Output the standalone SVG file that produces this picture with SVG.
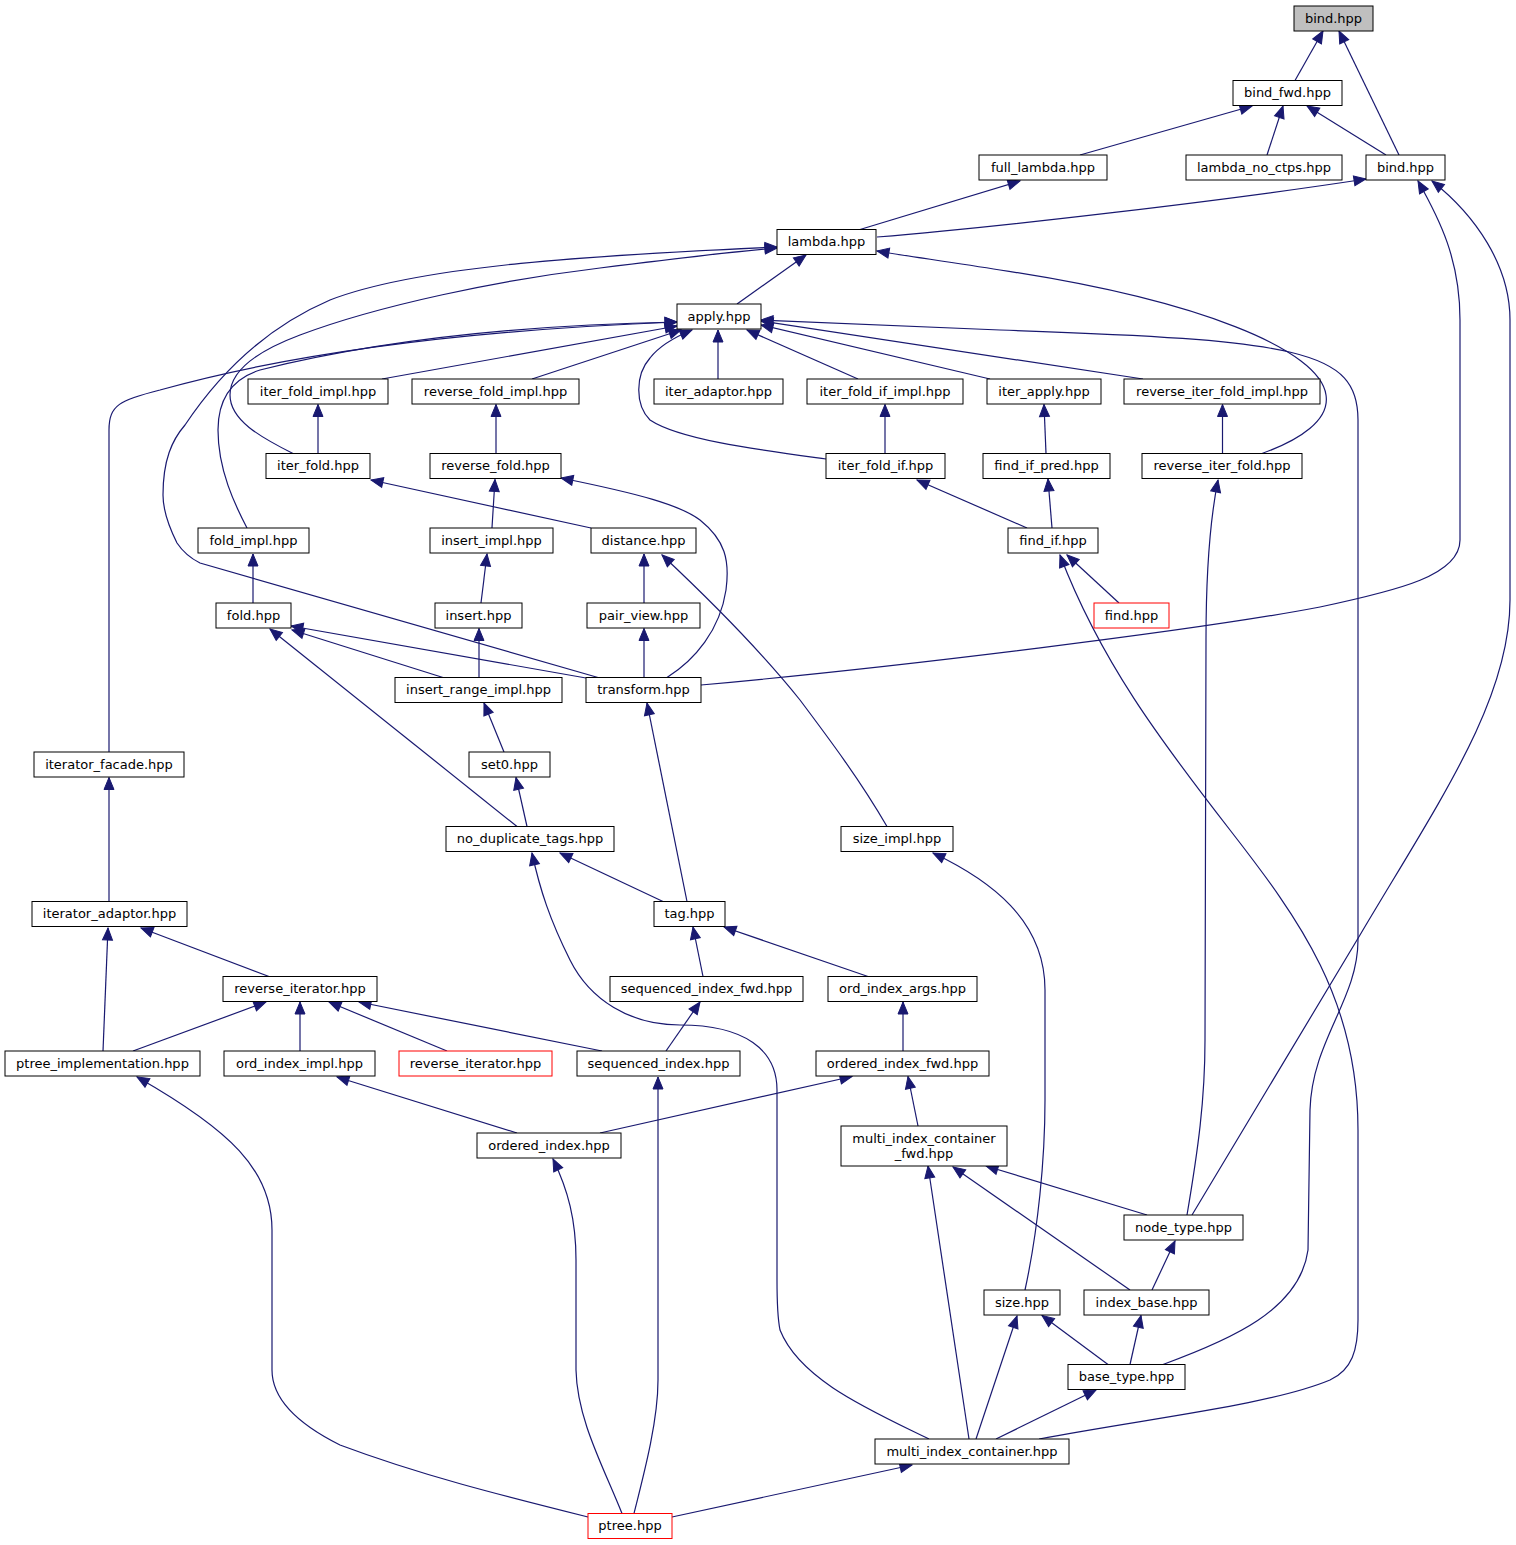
<svg xmlns="http://www.w3.org/2000/svg" width="1516" height="1545" viewBox="0 0 1516 1545">
<style>
.n rect{fill:#ffffff;stroke:#000000;stroke-width:1}
.n.root rect{fill:#bfbfbf}
.n.red rect{stroke:#ff0000}
.n text{font-family:"DejaVu Sans","Liberation Sans",sans-serif;font-size:13px;fill:#000000;text-anchor:middle}
#edges path{fill:none;stroke:#191970;stroke-width:1.2;marker-end:url(#arr)}
</style>
<defs>
<marker id="arr" markerUnits="userSpaceOnUse" markerWidth="12" markerHeight="10" refX="12" refY="5" orient="auto" viewBox="0 0 12 10" overflow="visible">
<path d="M0,0 L12,5 L0,10 Z" fill="#191970" stroke="#191970" stroke-width="1"/>
</marker>
</defs>
<rect x="0" y="0" width="1516" height="1545" fill="#ffffff"/>
<g id="edges">
<path d="M1295,80.5 L1323,31"/>
<path d="M1399,155 L1339,31"/>
<path d="M1080,155 L1252,106"/>
<path d="M1267,155 L1283,106"/>
<path d="M1386,155 L1307,106"/>
<path d="M860,229.5 L1020,181"/>
<path d="M877,237 C1000,227 1230,200 1366,179"/>
<path d="M737,304 L806,255"/>
<path d="M293,453.5 C260,437 230,420 230,395 C230,370 260,350 300,335 C380,305 500,280 600,268 C680,258 740,251 777,248"/>
<path d="M598,677.5 L200,563 C190,558 183,552 177,543 C168,525 163,510 163,495 C163,460 172,440 185,425 C215,380 260,330 330,300 C420,265 600,255 777,247"/>
<path d="M1262,453.5 C1300,440 1330,420 1326,395 C1320,350 1200,300 1000,270 C950,262 900,255 877,251"/>
<path d="M382,379 L677,326"/>
<path d="M532,379 L681,330"/>
<path d="M718,379 L718,330"/>
<path d="M858,379 L747,330"/>
<path d="M990,379 L761,325"/>
<path d="M1143,379 L761,321"/>
<path d="M1163,1364.5 C1230,1340 1300,1310 1308,1250 L1310,1110 C1312,1040 1358,1000 1358,940 L1358,420 C1358,350 1300,340 1000,330 C900,326 800,322 761,320"/>
<path d="M826,459 C760,450 680,440 650,420 C635,405 635,375 650,358 C660,345 675,337 692,330"/>
<path d="M247,528 C235,505 218,470 218,430 C218,395 235,378 260,370 C380,340 520,325 677,322"/>
<path d="M109,752 L109,430 C109,405 120,400 160,390 C260,362 420,332 677,322"/>
<path d="M318,453.5 L318,404.5"/>
<path d="M496,453.5 L496,404.5"/>
<path d="M885,453.5 L885,404.5"/>
<path d="M1046,453.5 L1044,404.5"/>
<path d="M1222.5,453.5 L1222.5,404.5"/>
<path d="M1027,528 L917,480"/>
<path d="M1052,528 L1048,479"/>
<path d="M1119,603 L1067,555"/>
<path d="M1039,1439 C1150,1418 1270,1405 1330,1380 C1352,1370 1358,1350 1358,1320 L1358,1130 C1358,1000 1300,920 1230,830 C1160,740 1100,660 1060,555"/>
<path d="M591,528 L371,480"/>
<path d="M492,528 L495,479.5"/>
<path d="M667,677.5 C695,660 720,630 726,590 C730,560 725,540 700,520 C680,505 640,494 561,478"/>
<path d="M887,826.5 C860,780 830,740 800,700 C760,650 710,600 662,555"/>
<path d="M644,603 L644,554"/>
<path d="M644,677.5 L644,628.5"/>
<path d="M481,603 L487,554"/>
<path d="M479,677.5 L479,628.5"/>
<path d="M253,603 L253,554"/>
<path d="M443,677.5 L292,630"/>
<path d="M586,678 L291,626"/>
<path d="M517,826.5 L270,629"/>
<path d="M504,752 L484,703"/>
<path d="M527,826.5 L516,777.5"/>
<path d="M687,901.5 L647,703"/>
<path d="M663,901.5 L560,853"/>
<path d="M929,1439 C870,1410 800,1380 780,1330 C777,1315 777,1300 777,1280 L777,1090 C777,1050 745,1025 680,1025 C630,1025 590,1000 570,960 C550,920 540,890 532,853"/>
<path d="M969,1439 L928,1166"/>
<path d="M976,1439 L1017,1316"/>
<path d="M996,1439 L1096,1390"/>
<path d="M672,1517 L912,1465"/>
<path d="M634,1513.5 C645,1470 658,1420 658,1380 L658,1077"/>
<path d="M622,1513.5 C605,1470 577,1420 576,1370 L576,1260 C576,1220 568,1190 553,1159"/>
<path d="M588,1517 C500,1495 420,1475 340,1445 C290,1420 272,1395 272,1370 L272,1230 C272,1170 230,1130 137,1077"/>
<path d="M103,1051 L108,928"/>
<path d="M109,901.5 L109,777.5"/>
<path d="M269,976.5 L141,928"/>
<path d="M133,1051 L266,1002"/>
<path d="M300,1051 L300,1002"/>
<path d="M447,1051 L329,1002"/>
<path d="M602,1051 L359,1002"/>
<path d="M517,1133 L337,1077"/>
<path d="M600,1133 L852,1076.5"/>
<path d="M666,1051 L700,1002"/>
<path d="M703,976.5 L693,927"/>
<path d="M868,976.5 L724,927"/>
<path d="M903,1051 L903,1002"/>
<path d="M918,1126 L908,1076.5"/>
<path d="M1147,1215 L986,1166"/>
<path d="M1130,1290 L953,1167"/>
<path d="M1152,1290 L1175,1241"/>
<path d="M1108,1364.5 L1042,1315.5"/>
<path d="M1130,1364.5 L1141,1315.5"/>
<path d="M1187,1215 C1198,1150 1205,1100 1205,1040 L1206,640 C1206,580 1210,520 1218,480"/>
<path d="M1192,1215 L1360,935 C1440,800 1510,700 1510,600 L1510,320 C1510,265 1475,215 1432,181"/>
<path d="M701,685 C900,667 1200,630 1320,607 C1400,590 1460,575 1460,540 L1460,320 C1460,260 1440,220 1418,181"/>
<path d="M1025,1290 C1038,1230 1045,1160 1045,1100 L1045,990 C1045,920 990,880 933,853"/>
</g>
<g id="n_bind_root" class="n root"><rect x="1294" y="6" width="79" height="25"/><text x="1333.5" y="22.5">bind.hpp</text></g>
<g id="n_bind_fwd" class="n"><rect x="1233" y="80.5" width="109" height="25"/><text x="1287.5" y="97">bind_fwd.hpp</text></g>
<g id="n_full_lambda" class="n"><rect x="979" y="155" width="128" height="25"/><text x="1043" y="171.5">full_lambda.hpp</text></g>
<g id="n_lambda_no_ctps" class="n"><rect x="1186" y="155" width="156" height="25"/><text x="1264" y="171.5">lambda_no_ctps.hpp</text></g>
<g id="n_bind2" class="n"><rect x="1366" y="155" width="79" height="25"/><text x="1405.5" y="171.5">bind.hpp</text></g>
<g id="n_lambda" class="n"><rect x="777" y="229.5" width="99" height="25"/><text x="826.5" y="246">lambda.hpp</text></g>
<g id="n_apply" class="n"><rect x="677" y="304" width="84" height="25"/><text x="719" y="320.5">apply.hpp</text></g>
<g id="n_iter_fold_impl" class="n"><rect x="248" y="379" width="140" height="25"/><text x="318" y="395.5">iter_fold_impl.hpp</text></g>
<g id="n_reverse_fold_impl" class="n"><rect x="412" y="379" width="167" height="25"/><text x="495.5" y="395.5">reverse_fold_impl.hpp</text></g>
<g id="n_iter_adaptor" class="n"><rect x="654" y="379" width="129" height="25"/><text x="718.5" y="395.5">iter_adaptor.hpp</text></g>
<g id="n_iter_fold_if_impl" class="n"><rect x="807" y="379" width="156" height="25"/><text x="885" y="395.5">iter_fold_if_impl.hpp</text></g>
<g id="n_iter_apply" class="n"><rect x="987" y="379" width="114" height="25"/><text x="1044" y="395.5">iter_apply.hpp</text></g>
<g id="n_reverse_iter_fold_impl" class="n"><rect x="1124" y="379" width="196" height="25"/><text x="1222" y="395.5">reverse_iter_fold_impl.hpp</text></g>
<g id="n_iter_fold" class="n"><rect x="266" y="453.5" width="104" height="25"/><text x="318" y="470">iter_fold.hpp</text></g>
<g id="n_reverse_fold" class="n"><rect x="430" y="453.5" width="131" height="25"/><text x="495.5" y="470">reverse_fold.hpp</text></g>
<g id="n_iter_fold_if" class="n"><rect x="826" y="453.5" width="119" height="25"/><text x="885.5" y="470">iter_fold_if.hpp</text></g>
<g id="n_find_if_pred" class="n"><rect x="983" y="453.5" width="127" height="25"/><text x="1046.5" y="470">find_if_pred.hpp</text></g>
<g id="n_reverse_iter_fold" class="n"><rect x="1142" y="453.5" width="160" height="25"/><text x="1222" y="470">reverse_iter_fold.hpp</text></g>
<g id="n_fold_impl" class="n"><rect x="198" y="528" width="111" height="25"/><text x="253.5" y="544.5">fold_impl.hpp</text></g>
<g id="n_insert_impl" class="n"><rect x="430" y="528" width="123" height="25"/><text x="491.5" y="544.5">insert_impl.hpp</text></g>
<g id="n_distance" class="n"><rect x="591" y="528" width="105" height="25"/><text x="643.5" y="544.5">distance.hpp</text></g>
<g id="n_find_if" class="n"><rect x="1008" y="528" width="90" height="25"/><text x="1053" y="544.5">find_if.hpp</text></g>
<g id="n_fold" class="n"><rect x="216" y="603" width="75" height="25"/><text x="253.5" y="619.5">fold.hpp</text></g>
<g id="n_insert" class="n"><rect x="435" y="603" width="87" height="25"/><text x="478.5" y="619.5">insert.hpp</text></g>
<g id="n_pair_view" class="n"><rect x="587" y="603" width="113" height="25"/><text x="643.5" y="619.5">pair_view.hpp</text></g>
<g id="n_find" class="n red"><rect x="1094" y="603" width="75" height="25"/><text x="1131.5" y="619.5">find.hpp</text></g>
<g id="n_insert_range_impl" class="n"><rect x="395" y="677.5" width="167" height="25"/><text x="478.5" y="694">insert_range_impl.hpp</text></g>
<g id="n_transform" class="n"><rect x="586" y="677.5" width="115" height="25"/><text x="643.5" y="694">transform.hpp</text></g>
<g id="n_iterator_facade" class="n"><rect x="34" y="752" width="150" height="25"/><text x="109" y="768.5">iterator_facade.hpp</text></g>
<g id="n_set0" class="n"><rect x="469" y="752" width="81" height="25"/><text x="509.5" y="768.5">set0.hpp</text></g>
<g id="n_no_duplicate_tags" class="n"><rect x="446" y="826.5" width="168" height="25"/><text x="530" y="843">no_duplicate_tags.hpp</text></g>
<g id="n_size_impl" class="n"><rect x="841" y="826.5" width="112" height="25"/><text x="897" y="843">size_impl.hpp</text></g>
<g id="n_iterator_adaptor" class="n"><rect x="32" y="901.5" width="155" height="25"/><text x="109.5" y="918">iterator_adaptor.hpp</text></g>
<g id="n_tag" class="n"><rect x="654" y="901.5" width="71" height="25"/><text x="689.5" y="918">tag.hpp</text></g>
<g id="n_reverse_iterator" class="n"><rect x="223" y="976.5" width="154" height="25"/><text x="300" y="993">reverse_iterator.hpp</text></g>
<g id="n_sequenced_index_fwd" class="n"><rect x="610" y="976.5" width="193" height="25"/><text x="706.5" y="993">sequenced_index_fwd.hpp</text></g>
<g id="n_ord_index_args" class="n"><rect x="828" y="976.5" width="149" height="25"/><text x="902.5" y="993">ord_index_args.hpp</text></g>
<g id="n_ptree_implementation" class="n"><rect x="5" y="1051" width="195" height="25"/><text x="102.5" y="1067.5">ptree_implementation.hpp</text></g>
<g id="n_ord_index_impl" class="n"><rect x="224" y="1051" width="151" height="25"/><text x="299.5" y="1067.5">ord_index_impl.hpp</text></g>
<g id="n_reverse_iterator_red" class="n red"><rect x="399" y="1051" width="153" height="25"/><text x="475.5" y="1067.5">reverse_iterator.hpp</text></g>
<g id="n_sequenced_index" class="n"><rect x="577" y="1051" width="163" height="25"/><text x="658.5" y="1067.5">sequenced_index.hpp</text></g>
<g id="n_ordered_index_fwd" class="n"><rect x="816" y="1051" width="173" height="25"/><text x="902.5" y="1067.5">ordered_index_fwd.hpp</text></g>
<g id="n_ordered_index" class="n"><rect x="477" y="1133" width="144" height="25"/><text x="549" y="1149.5">ordered_index.hpp</text></g>
<g id="n_multi_index_container_fwd" class="n"><rect x="841" y="1126" width="166" height="40"/><text x="924" y="1142.5">multi_index_container</text><text x="924" y="1157.5">_fwd.hpp</text></g>
<g id="n_node_type" class="n"><rect x="1124" y="1215" width="119" height="25"/><text x="1183.5" y="1231.5">node_type.hpp</text></g>
<g id="n_size" class="n"><rect x="984" y="1290" width="76" height="25"/><text x="1022" y="1306.5">size.hpp</text></g>
<g id="n_index_base" class="n"><rect x="1084" y="1290" width="125" height="25"/><text x="1146.5" y="1306.5">index_base.hpp</text></g>
<g id="n_base_type" class="n"><rect x="1068" y="1364.5" width="117" height="25"/><text x="1126.5" y="1381">base_type.hpp</text></g>
<g id="n_multi_index_container" class="n"><rect x="875" y="1439" width="194" height="25"/><text x="972" y="1455.5">multi_index_container.hpp</text></g>
<g id="n_ptree" class="n red"><rect x="588" y="1513.5" width="84" height="25"/><text x="630" y="1530">ptree.hpp</text></g>
</svg>
